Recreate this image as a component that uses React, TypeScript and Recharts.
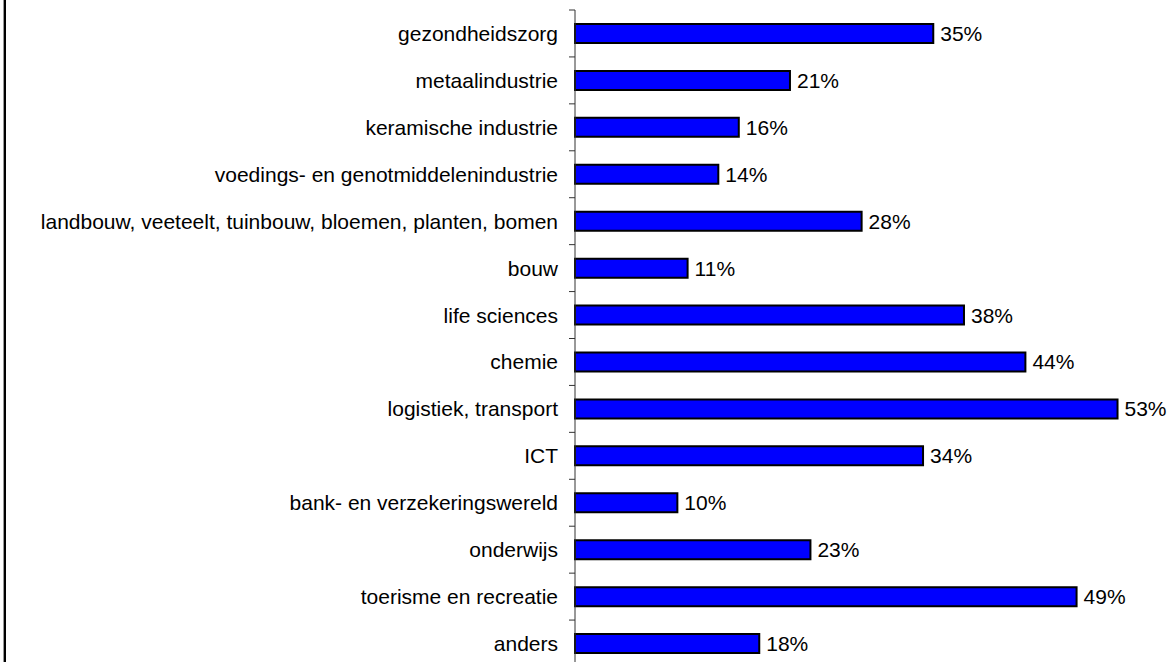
import React from 'react';
import { BarChart, Bar, XAxis, YAxis, LabelList } from 'recharts';

const sectors = [
  'gezondheidszorg',
  'metaalindustrie',
  'keramische industrie',
  'voedings- en genotmiddelenindustrie',
  'landbouw, veeteelt, tuinbouw, bloemen, planten, bomen',
  'bouw',
  'life sciences',
  'chemie',
  'logistiek, transport',
  'ICT',
  'bank- en verzekeringswereld',
  'onderwijs',
  'toerisme en recreatie',
  'anders',
];

const percentages = [35, 21, 16, 14, 28, 11, 38, 44, 53, 34, 10, 23, 49, 18];

const data = sectors.map((name, i) => ({ name, value: percentages[i] }));

const WIDTH = 1173;
const HEIGHT = 667;
const TOP = 10;
const band = (HEIGHT - TOP) / sectors.length;
const font = '"Liberation Sans", Arial, sans-serif';

const SectorTick = (props: any) => {
  const { x, y, payload, index } = props;
  const top = y - band / 2;
  return (
    <g>
      <line x1={x - 6} y1={top} x2={x} y2={top} stroke="#333" strokeWidth={1} />
      {index === sectors.length - 1 && (
        <line x1={x - 6} y1={y + band / 2} x2={x} y2={y + band / 2} stroke="#333" strokeWidth={1} />
      )}
      <text
        x={x - 17}
        y={y}
        textAnchor="end"
        dominantBaseline="central"
        fill="#000"
        fontSize={21}
        fontFamily={font}
      >
        {payload.value}
      </text>
    </g>
  );
};

export default function App() {
  return (
    <div style={{ position: 'fixed', left: 0, top: 0, width: WIDTH, height: 662, overflow: 'hidden', background: '#fff' }}>
      <div style={{ position: 'absolute', left: 3, top: 0, width: 1, height: 662, background: '#999' }} />
      <div style={{ position: 'absolute', left: 4, top: 0, width: 2, height: 662, background: '#000' }} />
      <BarChart
        width={WIDTH}
        height={HEIGHT}
        data={data}
        layout="vertical"
        margin={{ top: TOP, right: 35, bottom: 0, left: 0 }}
      >
        <XAxis type="number" domain={[0, 55]} hide />
        <YAxis
          type="category"
          dataKey="name"
          width={575}
          tickLine={false}
          tickSize={0}
          tickMargin={0}
          axisLine={{ stroke: '#333', strokeWidth: 1 }}
          tick={SectorTick}
          interval={0}
        />
        <Bar dataKey="value" fill="#0000ff" stroke="#000" strokeWidth={2} barSize={19} isAnimationActive={false}>
          <LabelList
            dataKey="value"
            position="right"
            offset={7}
            formatter={(v: any) => `${v}%`}
            fill="#000"
            fontSize={21}
            fontFamily={font}
          />
        </Bar>
      </BarChart>
    </div>
  );
}
